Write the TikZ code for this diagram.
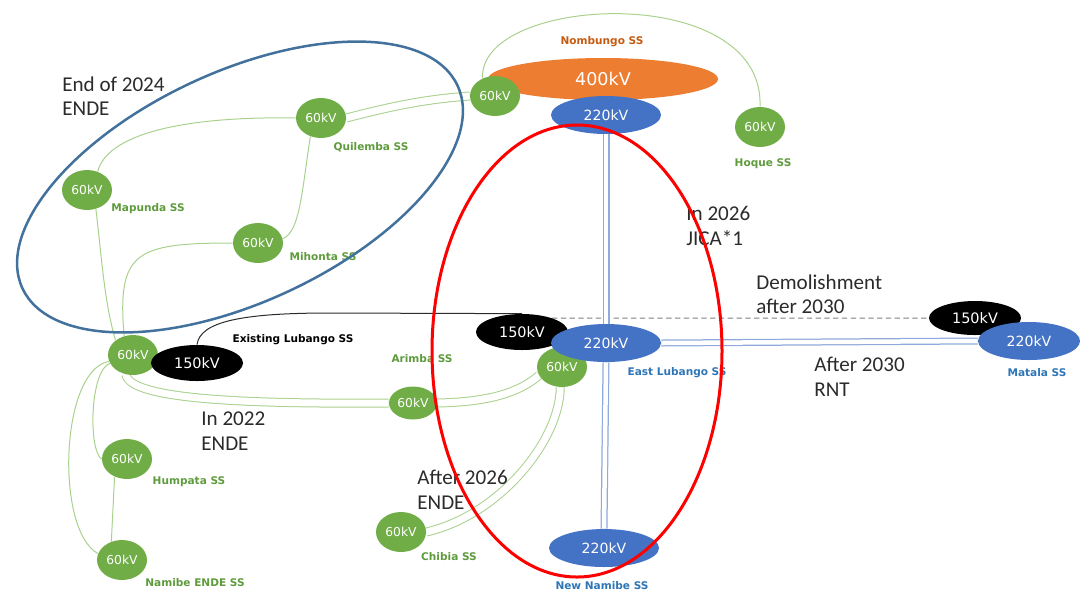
\documentclass[tikz,border=0pt]{standalone}
\usepackage{fontspec}
\usetikzlibrary{shapes.geometric,backgrounds}
\newfontfamily\lblfont{DejaVu Sans}
\newfontfamily\txtfont{Carlito}
\definecolor{ggreen}{HTML}{70AD47}
\definecolor{lgreen}{HTML}{A9D18E}
\definecolor{oorange}{HTML}{ED7D31}
\definecolor{bblue}{HTML}{4472C4}
\definecolor{lblue}{HTML}{8FAADC}
\definecolor{ringblue}{HTML}{41719C}
\definecolor{lblgreen}{HTML}{5E9B3C}
\definecolor{lblblue}{HTML}{2E75B6}
\definecolor{lblorange}{HTML}{C55A11}
\definecolor{txtgray}{HTML}{2B2B2B}
\definecolor{dashgray}{HTML}{7F7F7F}

\begin{document}
\begin{tikzpicture}[x=0.2mm,y=-0.2mm,line join=round,
	ss/.style={ellipse,inner sep=0,text=white,font=\lblfont\fontsize{7}{8}\selectfont},
	kvsix/.style={ss,fill=ggreen,minimum width=10mm,minimum height=8mm},
	kvonefifty/.style={ss,fill=black,minimum width=18.4mm,minimum height=7.2mm,font=\lblfont\fontsize{8.2}{9}\selectfont},
	kvtwotwenty/.style={ss,fill=bblue,minimum width=22mm,minimum height=7.6mm,font=\lblfont\fontsize{8}{9}\selectfont},
	kvfourhundred/.style={ss,fill=oorange,minimum width=46mm,minimum height=8.4mm,font=\lblfont\fontsize{10}{11}\selectfont},
	sslabel/.style={inner sep=0,font=\lblfont\bfseries\fontsize{6}{7}\selectfont},
	remark/.style={inner sep=0,anchor=north west,align=left,text=txtgray,font=\txtfont\fontsize{12}{14.2}\selectfont},
	gline/.style={lgreen,line width=0.2mm},
	gdouble/.style={draw=lgreen,line width=0.2mm,double=white,double distance=1.4mm},
	bdouble/.style={draw=lblue,line width=0.25mm,double=white,double distance=0.9mm}]
	\useasboundingbox (0,0) rectangle (1080,592);
	% Nombungo
	\node[kvfourhundred] (nomb400) at (603,79) {400kV};
	\node[kvtwotwenty] (nomb220) at (606,115) {220kV};
	\node[kvsix] (nomb60) at (495,96) {60kV};
	\node[kvsix] (hoque60) at (760,127) {60kV};
	% 60kV ring
	\node[kvsix] (quil60) at (321,118) {60kV};
	\node[kvsix] (mapu60) at (87,190) {60kV};
	\node[kvsix] (mihon60) at (258,243) {60kV};
	% Lubango
	\node[kvsix] (lub60) at (133,355) {60kV};
	\node[kvonefifty] (lub150) at (197,363) {150kV};
	\node[kvonefifty] (elub150) at (522,332) {150kV};
	\node[kvsix] (elub60) at (562,367) {60kV};
	\node[kvtwotwenty] (elub220) at (606,343) {220kV};
	\node[kvsix,minimum height=6.6mm,minimum width=9.6mm] (arim60) at (413,403) {60kV};
	% south
	\node[kvsix] (hump60) at (127,459) {60kV};
	\node[kvsix] (nami60) at (122,560) {60kV};
	\node[kvsix] (chib60) at (401,532) {60kV};
	\node[kvtwotwenty] (nnam220) at (604,548) {220kV};
	% Matala
	\node[kvonefifty,minimum height=6.8mm] (mat150) at (975,318) {150kV};
	\node[kvtwotwenty,minimum width=20.4mm] (mat220) at (1029,341) {220kV};

	\begin{scope}[on background layer]
		\draw[gline] (nomb60.125) .. controls (478,-5) and (765,-20) .. (hoque60.north);
		\draw[gdouble] (quil60.east) .. controls (400,104) and (430,99) .. (nomb60.west);
		\draw[gline] (quil60.west) .. controls (180,116) and (107,135) .. (mapu60.60);
		\draw[gline] (quil60.240) .. controls (302,190) and (300,232) .. (mihon60.10);
		\draw[gline] (mihon60.west) .. controls (135,243) and (117,252) .. (lub60.115);
		\draw[gline] (mapu60.-65) .. controls (102,260) and (104,300) .. (lub60.140);
		\draw[gdouble] (lub60.-110) .. controls (130,400) and (250,404) .. (arim60.west);
		\draw[gdouble] (arim60.east) .. controls (490,402) and (520,392) .. (elub60.200);
		\draw[gdouble] (elub60.-95) .. controls (560,440) and (500,515) .. (chib60.east);
		\draw[gline] (lub60.200) .. controls (90,370) and (88,450) .. (hump60.west);
		\draw[gline] (lub60.195) .. controls (60,370) and (55,530) .. (nami60.165);
		\draw[gline] (hump60.-125) -- (nami60.120);
		\draw[txtgray,line width=0.2mm] (lub150.north) .. controls (200,322) and (240,313) .. (330,313) -- (elub150.north);
		\draw[dashgray,densely dashed,line width=0.2mm] (elub150.25) -- (mat150.west);
		\draw[bdouble] (nomb220.south) -- (elub220.north);
		\draw[bdouble] (elub220.south) -- (nnam220.north);
		\draw[bdouble] (elub220.east) -- (mat220.west);
	\end{scope}

	% station names
	\node[sslabel,text=lblorange] (nombname) at (602,42) {Nombungo SS};
	\node[sslabel,text=lblgreen] (hoquename) at (763,164) {Hoque SS};
	\node[sslabel,text=lblgreen] (quilname) at (371,147) {Quilemba SS};
	\node[sslabel,text=lblgreen] (mapuname) at (148,209) {Mapunda SS};
	\node[sslabel,text=lblgreen] (mihonname) at (323,257) {Mihonta SS};
	\node[sslabel,text=black] (lubname) at (293,340) {Existing Lubango SS};
	\node[sslabel,text=lblgreen] (arimname) at (422,359) {Arimba SS};
	\node[sslabel,text=lblblue] (elubname) at (677,373) {East Lubango SS};
	\node[sslabel,text=lblblue] (matname) at (1037,373) {Matala SS};
	\node[sslabel,text=lblgreen] (humpname) at (189,482) {Humpata SS};
	\node[sslabel,text=lblgreen] (naminame) at (195,583) {Namibe ENDE SS};
	\node[sslabel,text=lblgreen] (chibname) at (449,557) {Chibia SS};
	\node[sslabel,text=lblblue] (nnamname) at (602,586) {New Namibe SS};

	% phases
	\node[remark] (ende24) at (62,76) {End of 2024\\ENDE};
	\node[remark] (jica26) at (686,206) {In 2026\\JICA*1};
	\node[remark] (demol) at (756,274) {Demolishment\\after 2030};
	\node[remark] (rnt30) at (814,357) {After 2030\\RNT};
	\node[remark] (ende22) at (201,411) {In 2022\\ENDE};
	\node[remark] (ende26) at (417,470) {After 2026\\ENDE};

	\node[draw=ringblue,line width=0.5mm,ellipse,minimum width=96mm,minimum height=46mm,rotate=25] (ring24) at (240,187) {};
	\node[draw=red,line width=0.6mm,ellipse,minimum width=58mm,minimum height=90.4mm] (ring26) at (577,351) {};
\end{tikzpicture}
\end{document}
